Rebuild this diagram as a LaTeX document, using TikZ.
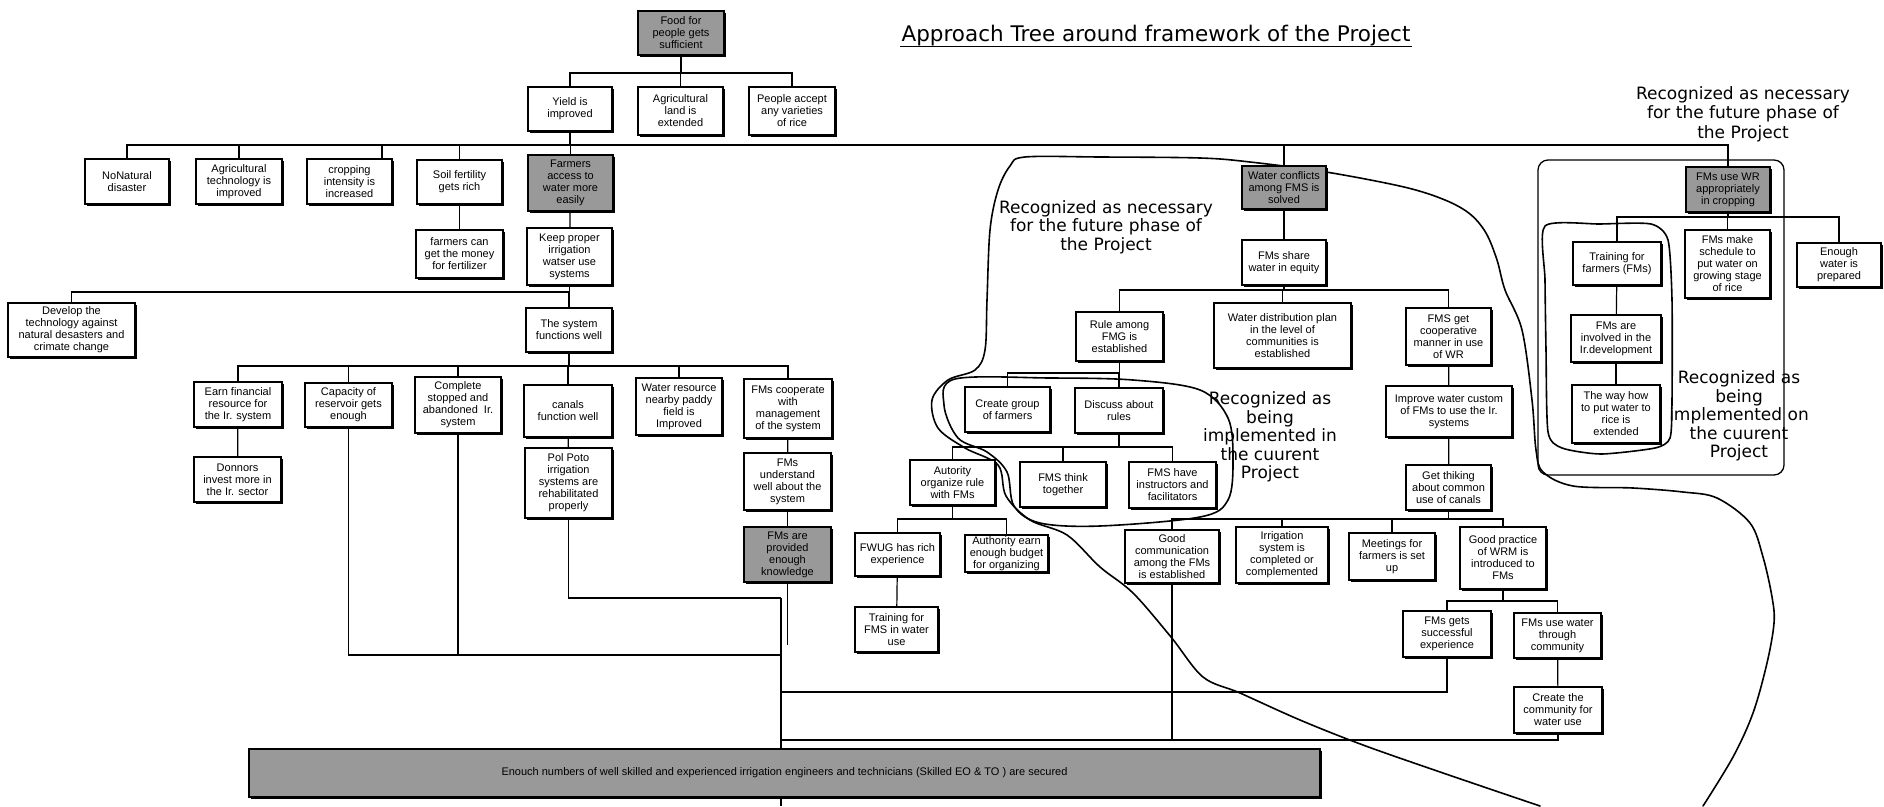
\documentclass[tikz,border=0pt]{standalone}
\usepackage{fontspec}
\setmainfont{Liberation Sans}
\newfontfamily\annfont{DejaVu Sans}
\usetikzlibrary{shadows}
\tikzset{
  box/.style={draw, line width=1.3pt, fill=white, align=center, inner sep=1pt,
    font=\fontsize{11}{12}\selectfont,
    drop shadow={shadow xshift=1.8pt, shadow yshift=-1.8pt, opacity=1, fill=black}},
  dark/.style={box, fill=black!40},
  con/.style={line width=1.2pt},
  curve/.style={line width=1.6pt, line join=round, line cap=round},
  ann/.style={font=\annfont\fontsize{17}{18.5}\selectfont, align=center, inner sep=0pt},
}
\newcommand{\mybox}[6]{\node[box,minimum width=#4,minimum height=#5] (#1) at (#2,#3) {#6};}
\newcommand{\mydark}[6]{\node[dark,minimum width=#4,minimum height=#5] (#1) at (#2,#3) {#6};}
\newcommand{\tree}[3]{\draw[con] (#1.south) -- (#1.south |- 0,#2) -| (#3.north);}
\begin{document}
\begin{tikzpicture}[x=1pt,y=-1pt]
\useasboundingbox (0,0) rectangle (1884,806);
\fill[white] (0,0) rectangle (1884,806);

% ---------- hand-drawn outlines ----------
\draw[curve] plot[smooth,tension=0.55] coordinates {(1540,806) (1443,773) (1363,745) (1300,720) (1240,693) (1203,677) (1171,637) (1133,593) (1100,567) (1067,535) (1030,520) (1006,496) (998,465) (965,448) (938,428) (932,400) (948,380) (975,370) (985,350) (987,300) (990,230) (998,190) (1010,166) (1025,157) (1100,157) (1200,158) (1250,162) (1326,172) (1404,187) (1445,200) (1470,214) (1486,233) (1497,260) (1505,290) (1522,330) (1532,400) (1536,450) (1543,472) (1573,486) (1633,488) (1683,492) (1717,498) (1750,523) (1763,557) (1772,597) (1774,623) (1767,663) (1753,713) (1733,757) (1703,806)};
\draw[curve] plot[smooth cycle,tension=0.55] coordinates {(955,379) (1050,378) (1133,380) (1200,390) (1228,418) (1233,460) (1228,500) (1200,517) (1100,526) (1040,523) (1014,506) (1007,472) (987,452) (958,438) (944,405)};
\draw[curve] plot[smooth cycle,tension=0.4] coordinates {(1545,226) (1600,224) (1651,224) (1668,240) (1672,300) (1672,400) (1670,438) (1655,448) (1601,454) (1562,448) (1548,432) (1546,350) (1545,280)};
\draw[curve, line width=1.3pt, rounded corners=10] (1538,160) rectangle (1784,475);

% ---------- boxes ----------
\mydark{food}{681}{33}{86}{44}{Food for\\people gets\\sufficient}
\mybox{yield}{570}{109}{84}{44}{Yield is\\improved}
\mybox{agland}{680.5}{111}{85}{48}{Agricultural\\land is\\extended}
\mybox{people}{792}{111}{86}{48}{People accept\\any varieties\\of rice}
\mybox{nonat}{127}{181.5}{84}{45}{NoNatural\\disaster}
\mybox{agtech}{239}{181.5}{86}{45}{Agricultural\\technology is\\improved}
\mybox{crop}{349.5}{181.5}{85}{45}{cropping\\intensity is\\increased}
\mybox{soil}{459.5}{182}{85}{44}{Soil fertility\\gets rich}
\mydark{access}{570.5}{183}{85}{56}{Farmers\\access to\\water more\\easily}
\mybox{money}{459.5}{254}{87}{48}{farmers can\\get the money\\for fertilizer}
\mybox{keep}{569.5}{256.5}{85}{57}{Keep proper\\irrigation\\watser use\\systems}
\mybox{develop}{71.5}{330}{127}{54}{Develop the\\technology against\\natural desasters and\\crimate change}
\mybox{system}{569}{330}{86}{44}{The system\\functions well}
\mybox{earn}{238}{404.5}{88}{45}{Earn financial\\resource for\\the Ir. system}
\mybox{capacity}{348.5}{405}{87}{44}{Capacity of\\reservoir gets\\enough}
\mybox{complete}{458}{405}{86}{56}{Complete\\stopped and\\abandoned~ Ir.\\system}
\mybox{canals}{568}{411}{88}{52}{canals\\function well}
\mybox{donnors}{237.5}{479.5}{87}{45}{Donnors\\invest more in\\the Ir. sector}
\mybox{polpoto}{568.5}{483}{87}{70}{Pol Poto\\irrigation\\systems are\\rehabilitated\\properly}
\mybox{wres}{679}{406.5}{86}{57}{Water resource\\nearby paddy\\field is\\Improved}
\mybox{coop}{788}{408.5}{88}{59}{FMs cooperate\\with\\management\\of the system}
\mybox{understand}{787.5}{481.5}{87}{57}{FMs\\understand\\well about the\\system}
\mydark{provided}{787.5}{554.5}{87}{55}{FMs are\\provided\\enough\\knowledge}
\mydark{conflict}{1284}{187.5}{84}{43}{Water conflicts\\among FMS is\\solved}
\mybox{share}{1284}{262.5}{84}{45}{FMs share\\water in equity}
\mybox{rule}{1119.5}{336.5}{87}{49}{Rule among\\FMG is\\established}
\mybox{distrib}{1282.5}{335.5}{137}{65}{Water distribution plan\\in the level of\\communities is\\established}
\mybox{fmsget}{1448.5}{336.5}{85}{57}{FMS get\\cooperative\\manner in use\\of WR}
\mybox{cgroup}{1007.5}{409.5}{85}{45}{Create group\\of farmers}
\mybox{discuss}{1119}{410.5}{88}{45}{Discuss about\\rules}
\mybox{autority}{952.5}{482.5}{85}{45}{Autority\\organize rule\\with FMs}
\mybox{think}{1063}{484.5}{86}{45}{FMS think\\together}
\mybox{instruct}{1172.5}{485}{87}{46}{FMS have\\instructors and\\facilitators}
\mybox{fwug}{897.5}{554.5}{85}{43}{FWUG has rich\\experience}
\mybox{budget}{1006.5}{553.5}{83}{37}{Authority earn\\enough budget\\for organizing}
\mybox{trainfms}{896.5}{629.5}{83}{45}{Training for\\FMS in water\\use}
\mybox{improve}{1449}{411.5}{126}{51}{Improve water custom\\of FMs to use the Ir.\\systems}
\mybox{thinking}{1448.5}{487.5}{85}{45}{Get thiking\\about common\\use of canals}
\mybox{goodcomm}{1172}{556.5}{94}{53}{Good\\communication\\among the FMs\\is established}
\mybox{irrsys}{1282}{555}{92}{56}{Irrigation\\system is\\completed or\\complemented}
\mybox{meetings}{1392}{556.5}{86}{47}{Meetings for\\farmers is set\\up}
\mybox{goodpr}{1503}{558}{86}{62}{Good practice\\of WRM is\\introduced to\\FMs}
\mybox{gets}{1447}{634}{88}{46}{FMs gets\\successful\\experience}
\mybox{usewater}{1557.5}{635.5}{87}{45}{FMs use water\\through\\community}
\mybox{createcom}{1558}{710}{88}{46}{Create the\\community for\\water use}
\mydark{usewr}{1728}{189.5}{84}{45}{FMs use WR\\appropriately\\in cropping}
\mybox{trainfm}{1617}{263.5}{88}{43}{Training for\\farmers (FMs)}
\mybox{schedule}{1727.5}{264}{85}{68}{FMs make\\schedule to\\put water on\\growing stage\\of rice}
\mybox{enough}{1839}{265}{84}{44}{Enough\\water is\\prepared}
\mybox{involved}{1616}{338.5}{90}{47}{FMs are\\involved in the\\Ir.development}
\mybox{wayhow}{1616}{414}{88}{58}{The way how\\to put water to\\rice is\\extended}
\node[dark, minimum width=1071, minimum height=48, font=\fontsize{11}{12}\selectfont] (bar) at (784.5,773) {Enouch numbers of well skilled and experienced irrigation engineers and technicians (Skilled EO \& TO ) are secured};

% ---------- tree connectors ----------
\tree{food}{73}{yield}
\tree{food}{73}{agland}
\tree{food}{73}{people}
\tree{yield}{145}{nonat}
\tree{yield}{145}{agtech}
\draw[con] (yield.south) -- (yield.south |- 0,145) -| (382,0 |- crop.north);
\tree{yield}{145}{soil}
\tree{yield}{145}{access}
\tree{yield}{145}{conflict}
\tree{yield}{145}{usewr}
\draw[con] (soil) -- (money);
\draw[con] (access) -- (keep);
\tree{keep}{292}{develop}
\tree{keep}{292}{system}
\tree{system}{366}{earn}
\tree{system}{366}{capacity}
\tree{system}{366}{complete}
\tree{system}{366}{canals}
\tree{system}{366}{wres}
\tree{system}{366}{coop}
\draw[con] (earn) -- (donnors);
\draw[con] (canals) -- (polpoto);
\draw[con] (coop) -- (understand);
\draw[con] (understand) -- (provided);
\draw[con] (conflict) -- (share);
\tree{share}{290}{rule}
\tree{share}{290}{distrib}
\tree{share}{290}{fmsget}
\tree{rule}{373}{cgroup}
\tree{rule}{373}{discuss}
\tree{discuss}{447}{autority}
\tree{discuss}{447}{think}
\tree{discuss}{447}{instruct}
\tree{autority}{519}{fwug}
\tree{autority}{519}{budget}
\draw[con] (fwug) -- (trainfms);
\draw[con] (fmsget) -- (improve);
\draw[con] (improve) -- (thinking);
\tree{thinking}{519}{goodcomm}
\tree{thinking}{519}{irrsys}
\tree{thinking}{519}{meetings}
\tree{thinking}{519}{goodpr}
\tree{goodpr}{601}{gets}
\tree{goodpr}{601}{usewater}
\draw[con] (usewater) -- (createcom);
\tree{usewr}{217}{trainfm}
\tree{usewr}{217}{schedule}
\tree{usewr}{217}{enough}
\draw[con] (trainfm) -- (involved);
\draw[con] (involved) -- (wayhow);

% ---------- lines into the bottom bar ----------
\coordinate (jA) at (781,655);
\coordinate (jB) at (781,598);
\coordinate (jC) at (781,692);
\coordinate (jD) at (781,740);
\coordinate (jE) at (781,806);
\coordinate (provend) at (786,645);
\draw[con] (capacity.south) |- (jA);
\draw[con] (complete.south) -- (complete.south |- jA);
\draw[con] (polpoto.south) |- (jB);
\draw[con] (provided.south) -- (provided.south |- provend);
\draw[con] (jB) -- (bar.north -| jB);
\draw[con] (bar.south -| jB) -- (jE);
\draw[con] (goodcomm.south) |- (jD);
\draw[con] (gets.south) |- (jC);
\draw[con] (createcom.south) |- (jD);

% ---------- texts ----------
\node[font=\annfont\fontsize{21.5}{23}\selectfont, anchor=base, inner sep=1pt] (title) at (1156,41) {Approach Tree around framework of the Project};
\draw[line width=1.2pt] (title.south west) -- (title.south east);
\node[ann] (annA) at (1106,227) {Recognized as necessary\\for the future phase of\\the Project};
\node[ann, font=\annfont\fontsize{17}{19.5}\selectfont] (annB) at (1743,114) {Recognized as necessary\\for the future phase of\\the Project};
\node[ann] (annC) at (1270,437) {Recognized as\\being\\implemented in\\the cuurent\\Project};
\node[ann] (annD) at (1739,416) {Recognized as\\being\\implemented on\\the cuurent\\Project};
\end{tikzpicture}
\end{document}
